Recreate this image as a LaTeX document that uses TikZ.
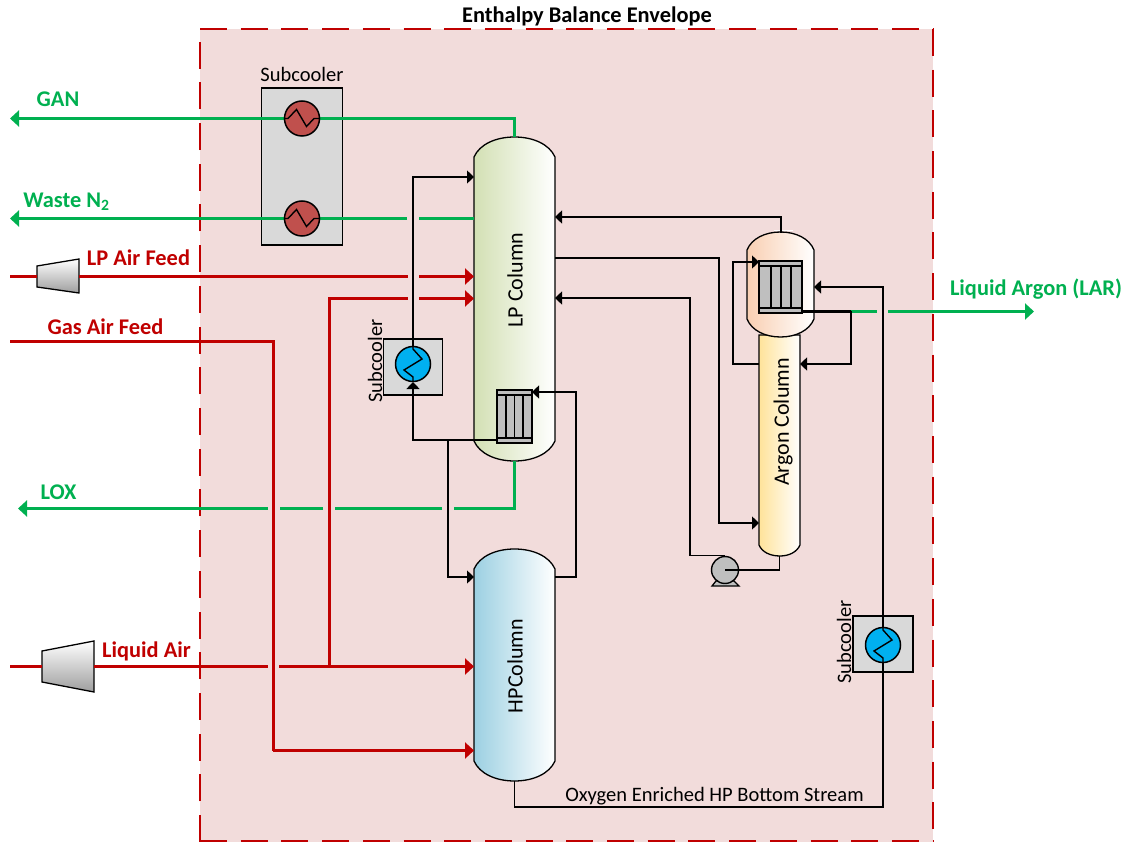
\documentclass[tikz,border=0pt]{standalone}
\usepackage{fontspec}
\setmainfont{Carlito}
\usetikzlibrary{arrows.meta,calc}
\definecolor{envfill}{HTML}{F2DCDB}
\definecolor{envred}{HTML}{C00000}
\definecolor{gstream}{HTML}{00B050}
\definecolor{boxgrey}{HTML}{D9D9D9}
\definecolor{hotred}{HTML}{C0504D}
\definecolor{coolblue}{HTML}{00B0F0}
\definecolor{bundle}{HTML}{BFBFBF}
\definecolor{lpcol}{HTML}{D3E0B4}
\definecolor{hpcol}{HTML}{9CD0E2}
\definecolor{condcol}{HTML}{F9CFB2}
\definecolor{arcol}{HTML}{FFE39A}
\tikzset{
  x=1pt,y=-1pt,
  vesselline/.style={draw=black,line width=1.3pt},
  blk/.style={draw=black,line width=1.3pt},
  blkarrow/.style={blk,-{Triangle[length=7pt,width=13pt]}},
  grn/.style={draw=gstream,line width=3pt},
  grnarrow/.style={grn,-{Triangle[length=9pt,width=16pt]}},
  rd/.style={draw=envred,line width=3pt},
  rdarrow/.style={rd,-{Triangle[length=9pt,width=16pt]}},
  glabel/.style={font=\fontsize{22.4}{24}\selectfont\bfseries,text=gstream,inner sep=0pt},
  rlabel/.style={font=\fontsize{22.4}{24}\selectfont\bfseries,text=envred,inner sep=0pt},
  tlabel/.style={font=\fontsize{20.5}{22}\selectfont,text=black,inner sep=0pt},
  vlabel/.style={font=\fontsize{20.5}{22}\selectfont,text=black,inner sep=0pt,rotate=90},
  collabel/.style={font=\fontsize{22}{24}\selectfont,text=black,inner sep=0pt,rotate=90},
  boxed/.style={draw=black,line width=1.4pt,fill=boxgrey,inner sep=0pt},
  hothx/.style={circle,draw=black,line width=1.5pt,fill=hotred,minimum size=35pt,inner sep=0pt},
  coolhx/.style={circle,draw=black,line width=1.5pt,fill=coolblue,minimum size=35pt,inner sep=0pt},
  coilline/.style={draw=black,line width=1.4pt},
  anchorbox/.style={inner sep=0pt,outer sep=0pt,draw=none},
  envedge/.style={draw=envred,line width=1.5pt,dash pattern=on 27pt off 13.7pt},
}
% name, left, top, right, bottom, head, colour
\newcommand{\vesselshape}[7]{%
  \path[vesselline,left color=#7,right color=white]
    (#2,#3+#6) .. controls ({#2+(#4-#2)*0.07},{#3+#6*0.36}) and ({#2+(#4-#2)*0.27},#3) .. ({(#2+#4)/2},#3)
    .. controls ({#4-(#4-#2)*0.27},#3) and ({#4-(#4-#2)*0.07},{#3+#6*0.36}) .. (#4,#3+#6)
    -- (#4,#5-#6) .. controls ({#4-(#4-#2)*0.07},{#5-#6*0.36}) and ({#4-(#4-#2)*0.27},#5) .. ({(#2+#4)/2},#5)
    .. controls ({#2+(#4-#2)*0.27},#5) and ({#2+(#4-#2)*0.07},{#5-#6*0.36}) .. (#2,#5-#6) -- cycle;
  \node[anchorbox,minimum width={(#4-#2)*1pt},minimum height={(#5-#3)*1pt}] (#1) at ({(#2+#4)/2},{(#3+#5)/2}) {};}
% name,left,top,right,bottom,x1,x2,x3
\newcommand{\bundleshape}[8]{%
  \node[anchorbox,draw=black,line width=1.6pt,fill=bundle,minimum width={(#4-#2)*1pt},minimum height={(#5-#3)*1pt}] (#1) at ({(#2+#4)/2},{(#3+#5)/2}) {};
  \draw[line width=1.4pt] (#2,#3+5) -- (#4,#3+5) (#2,#5-5) -- (#4,#5-5)
    (#6,#3+5) -- (#6,#5-5) (#7,#3+5) -- (#7,#5-5) (#8,#3+5) -- (#8,#5-5);}
\newcommand{\hotcoil}[1]{\draw[coilline,shift={(#1.center)}] (-17.5,0) -- (-14,0) -- (-5.5,-9) -- (4.5,8) -- (12,0) -- (17.5,0);}
\newcommand{\coolcoil}[1]{\draw[coilline,shift={(#1.center)}] (0,-17.5) -- (0,-15) -- (9,-5) -- (-9,6) -- (0,13) -- (0,17.5);}
\begin{document}
\begin{tikzpicture}
\useasboundingbox (0,0) rectangle (1133,842);
% envelope
\fill[envfill] (200,29) rectangle (933,842);
\draw[envedge] (200,842) -- (200,29);
\draw[envedge] (200,29) -- (933,29);
\draw[envedge] (933,29) -- (933,842);
\draw[envedge] (200,841) -- (933,841);
\node[rlabel,text=black] (envtitle) at (587,16) {Enthalpy Balance Envelope};

% vessels
\vesselshape{lp}{474}{137}{555}{461}{20}{lpcol}
\vesselshape{hp}{474}{549}{555}{781}{20}{hpcol}
\path[vesselline,left color=arcol,right color=white] (759,335) -- (800,335) -- (800,545) .. controls (797,552) and (789,556) .. (780,556) .. controls (770,556) and (762,552) .. (759,545) -- cycle;
\node[anchorbox,minimum width=41pt,minimum height=219pt] (ar) at (779.5,446.5) {};
\vesselshape{cond}{747}{232}{814}{337}{18}{condcol}
\draw[white,line width=1.6pt] (774,230.5) -- (793,230.5);
\node[collabel] (lplabel) at (515,280) {LP Column};
\node[collabel] (hplabel) at (515,666) {HPColumn};
\node[collabel] (arlabel) at (783,422) {Argon Column};

% equipment boxes
\node[boxed,minimum width=81.5pt,minimum height=157pt] (sc1) at (302,166.5) {};
\node[boxed,minimum width=59.5pt,minimum height=56pt] (sc2) at (413,367) {};
\node[boxed,minimum width=60pt,minimum height=56pt] (sc3) at (883,644) {};

% heat exchanger anchor points
\coordinate (h1) at (302,118.5);
\coordinate (h2) at (302,218.5);
\coordinate (h3) at (413,364);
\coordinate (h4) at (883,645);

% equipment in vessels
\bundleshape{reb}{497}{390}{532}{443}{506}{514.5}{523}
\bundleshape{con}{759}{261}{802}{313}{771}{781}{791}

% free ends
\coordinate (ganend) at (10,118.5);
\coordinate (wasteend) at (10,218.5);
\coordinate (wasteA) at (407,218.5);
\coordinate (wasteB) at (419,218.5);
\coordinate (lpairstart) at (10,276.5);
\coordinate (lpairA) at (408,276.5);
\coordinate (lpairB) at (419,276.5);
\coordinate (branchA) at (408,298.5);
\coordinate (branchB) at (419,298.5);
\coordinate (gasstart) at (10,341.5);
\coordinate (gascorner) at (273,341.5);
\coordinate (gaslow) at (273,750.5);
\coordinate (liqstart) at (10,666.5);
\coordinate (liqA) at (268,666.5);
\coordinate (liqB) at (279,666.5);
\coordinate (branchtee) at (329,666.5);
\coordinate (loxA) at (454,508.5);
\coordinate (loxB) at (442,508.5);
\coordinate (loxC) at (335,508.5);
\coordinate (loxD) at (323,508.5);
\coordinate (loxE) at (280,508.5);
\coordinate (loxF) at (268,508.5);
\coordinate (loxend) at (18,508.5);
\coordinate (larA) at (877,311.5);
\coordinate (larB) at (888,311.5);
\coordinate (larend) at (1034,311.5);
\coordinate (lartee) at (851,311.5);

% compressors
\path[vesselline,top color=white,bottom color=black!38] (37,266) -- (79,259) -- (79,293) -- (37,287) -- cycle;
\node[anchorbox,minimum width=42pt,minimum height=34pt] (comp1) at (58,276.5) {};
\path[vesselline,top color=white,bottom color=black!38] (42,651) -- (94,641) -- (94,692) -- (42,682) -- cycle;
\node[anchorbox,minimum width=52pt,minimum height=51pt] (comp2) at (68,666.5) {};

% green streams
\draw[grnarrow] (lp.north) -- (lp.north |- ganend) -- (ganend);
\draw[grn] (lp.west |- wasteB) -- (wasteB);
\draw[grnarrow] (wasteA) -- (wasteend);
\draw[grn] (lp.south) -- (lp.south |- loxA) -- (loxA);
\draw[grn] (loxB) -- (loxC);
\draw[grn] (loxD) -- (loxE);
\draw[grnarrow] (loxF) -- (loxend);
\draw[grn] (lartee) -- (larA);
\draw[grnarrow] (larB) -- (larend);

% red streams
\draw[rd] (lpairstart) -- (comp1.west);
\draw[rd] (comp1.east) -- (lpairA);
\draw[rdarrow] (lpairB) -- (lp.west |- lpairB);
\draw[rdarrow] (branchB) -- (lp.west |- branchB);
\draw[rd] (branchtee) -- (branchtee |- branchA) -- (branchA);
\draw[rd] (gasstart) -- (gascorner) -- (gaslow);
\draw[rdarrow] (gaslow) -- (hp.west |- gaslow);
\draw[rd] (liqstart) -- (comp2.west);
\draw[rd] (comp2.east) -- (liqA);
\draw[rdarrow] (liqB) -- (hp.west |- liqB);

% black streams
\draw[blkarrow] (reb.west |- 0,440) -- (h3 |- 0,440) -- (413,382);
\draw[blkarrow] (h3) -- (h3 |- 0,177) -- (lp.west |- 0,177);
\draw[blkarrow] (448,440) -- (448,577) -- (hp.west |- 0,577);
\draw[blkarrow] (hp.east |- 0,577) -- (576,577) -- (576,392) -- (reb.east |- 0,392);
\draw[blkarrow] (781,233) -- (781,217) -- (lp.east |- 0,217);
\draw[blkarrow] (lp.east |- 0,258) -- (719,258) -- (719,523) -- (ar.west |- 0,523);
\draw[blkarrow] (ar.west |- 0,364) -- (733,364) -- (733,262) -- (con.west |- 0,262);
\draw[blk,line width=2.4pt] (con.east |- lartee) -- (lartee);
\draw[blkarrow] (lartee) -- (851,364) -- (ar.east |- 0,364);
\draw[blkarrow] (hp.south) -- (hp.south |- 0,807) -- (883,807) -- (883,287) -- (cond.east |- 0,287);

% pump
\path[draw=black,line width=1.3pt,fill=bundle] (716,581) -- (712,586) -- (739,586) -- (734,581) -- cycle;
\node[circle,draw=black,line width=1.4pt,fill=bundle,minimum size=27pt,inner sep=0pt] (pump) at (725,570) {};
\draw[blk] (ar.south) -- (ar.south |- pump) -- (pump.center);
\draw[blkarrow] (pump.north) -| (690,298) -- (lp.east |- 0,298);

% exchangers
\node[hothx] (hx1) at (h1) {};
\node[hothx] (hx2) at (h2) {};
\node[coolhx] (hx3) at (h3) {};
\node[coolhx] (hx4) at (h4) {};
\hotcoil{hx1}
\hotcoil{hx2}
\coolcoil{hx3}
\coolcoil{hx4}

% labels
\node[tlabel] (sc1label) at (302,74) {Subcooler};
\node[vlabel] (sc2label) at (375,361) {Subcooler};
\node[vlabel] (sc3label) at (844,642) {Subcooler};
\node[tlabel] (o2label) at (714.5,796) {Oxygen Enriched HP Bottom Stream};
\node[glabel] (ganlabel) at (58,99) {GAN};
\node[glabel] (wastelabel) at (66.5,201.5) {Waste N\textsubscript{2}};
\node[rlabel] (lpairlabel) at (138.5,258) {LP Air Feed};
\fill[white] (47,318) rectangle (165,340.5);
\node[rlabel] (gaslabel) at (105.5,326.5) {Gas Air Feed};
\node[glabel] (loxlabel) at (58.5,492) {LOX};
\node[rlabel] (liqlabel) at (146.5,651) {Liquid Air};
\node[glabel] (larlabel) at (1036,289) {Liquid Argon (LAR)};
\end{tikzpicture}
\end{document}
